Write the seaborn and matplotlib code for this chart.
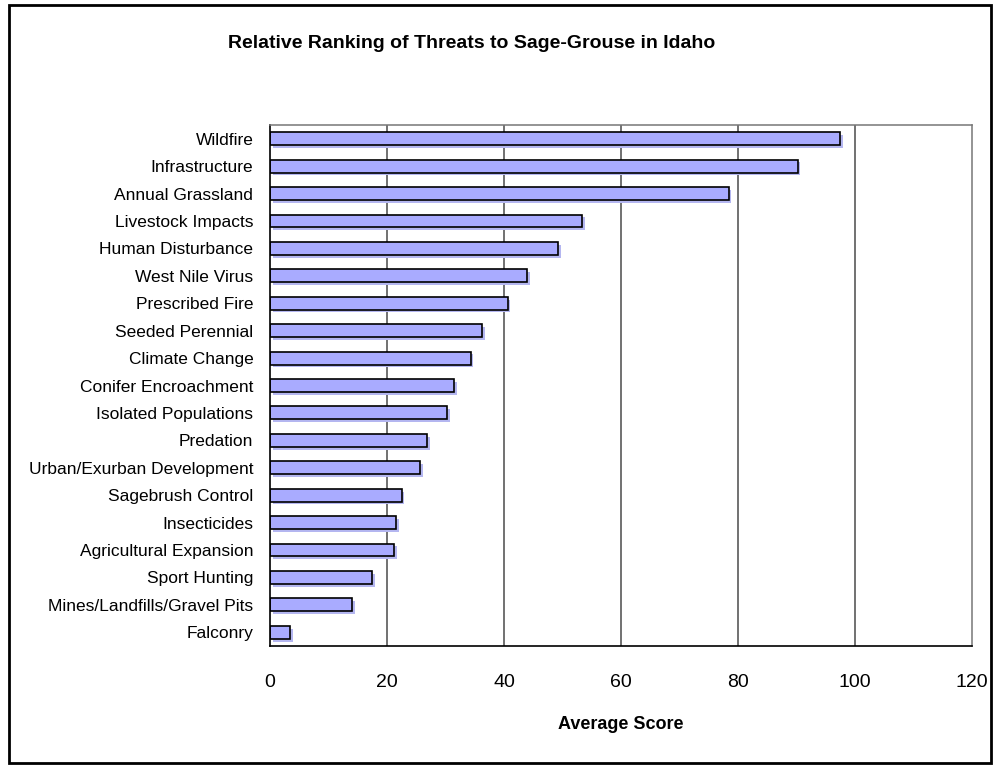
import matplotlib
matplotlib.use("Agg")
import matplotlib.pyplot as plt
import matplotlib.patheffects as pe
from matplotlib.patches import Rectangle
import seaborn as sns
import pandas as pd
import numpy as np

# Data
threats = ["Wildfire", "Infrastructure", "Annual Grassland", "Livestock Impacts",
           "Human Disturbance", "West Nile Virus", "Prescribed Fire",
           "Seeded Perennial", "Climate Change", "Conifer Encroachment",
           "Isolated Populations", "Predation", "Urban/Exurban Development",
           "Sagebrush Control", "Insecticides", "Agricultural Expansion",
           "Sport Hunting", "Mines/Landfills/Gravel Pits", "Falconry"]
scores = [97.4, 90.2, 78.4, 53.3, 49.2, 43.9, 40.6, 36.2, 34.3, 31.5,
          30.3, 26.8, 25.6, 22.5, 21.5, 21.2, 17.4, 14.1, 3.4]
xticks = [0, 20, 40, 60, 80, 100, 120]

df = pd.DataFrame({"threat": threats, "score": scores})

sns.set_style("white")
plt.rcParams["font.family"] = ["Liberation Sans", "DejaVu Sans"]
plt.rcParams["text.color"] = "black"
plt.rcParams["xtick.color"] = "black"
plt.rcParams["ytick.color"] = "black"
plt.rcParams["axes.labelcolor"] = "black"

fig = plt.figure(figsize=(9.95, 7.66), dpi=100)
ax = fig.add_axes([270 / 995, 1 - 646 / 766, 702 / 995, 521 / 766])

sns.barplot(data=df, x="score", y="threat", orient="h", color="#a9abff",
            width=0.47, edgecolor="black", linewidth=1.2, saturation=1, ax=ax)

# soft drop shadow behind each bar
for p in ax.patches:
    p.set_path_effects([pe.SimplePatchShadow(offset=(2, -2), shadow_rgbFace="#b4b6f0", alpha=1),
                        pe.Normal()])

ax.set_xlim(0, 120)
ax.set_ylim(len(threats) - 0.5, -0.5)
ax.set_xticks(xticks)
ax.set_xticklabels([str(t) for t in xticks], fontsize=14)
ax.tick_params(axis="x", direction="out", length=6, width=1, color="black", pad=14)

ax.tick_params(axis="y", which="major", length=0, pad=12, labelsize=12.5)
ax.set_yticks(np.arange(-0.5, len(threats) + 0.5, 1), minor=True)
ax.tick_params(axis="y", which="minor", direction="out", length=6, width=1.2, color="#333333")

for v in xticks[1:-1]:
    ax.axvline(v, color="#4a4a4a", lw=1.1, zorder=0)

for s in ["left", "bottom"]:
    ax.spines[s].set_color("black")
    ax.spines[s].set_linewidth(1.2)
for s in ["top", "right"]:
    ax.spines[s].set_color("#777777")
    ax.spines[s].set_linewidth(1.1)

ax.set_ylabel("")
ax.set_xlabel("Average Score", fontsize=13, fontweight="bold", labelpad=18)

fig.text(472 / 995, 1 - 43 / 766, "Relative Ranking of Threats to Sage-Grouse in Idaho",
         ha="center", va="center", fontsize=14, fontweight="bold")

fig.patches.append(Rectangle((9 / 995, 1 - 763 / 766), 982 / 995, 758 / 766,
                             transform=fig.transFigure, fill=False,
                             edgecolor="black", lw=2))

fig.savefig("out.png", dpi=100)
